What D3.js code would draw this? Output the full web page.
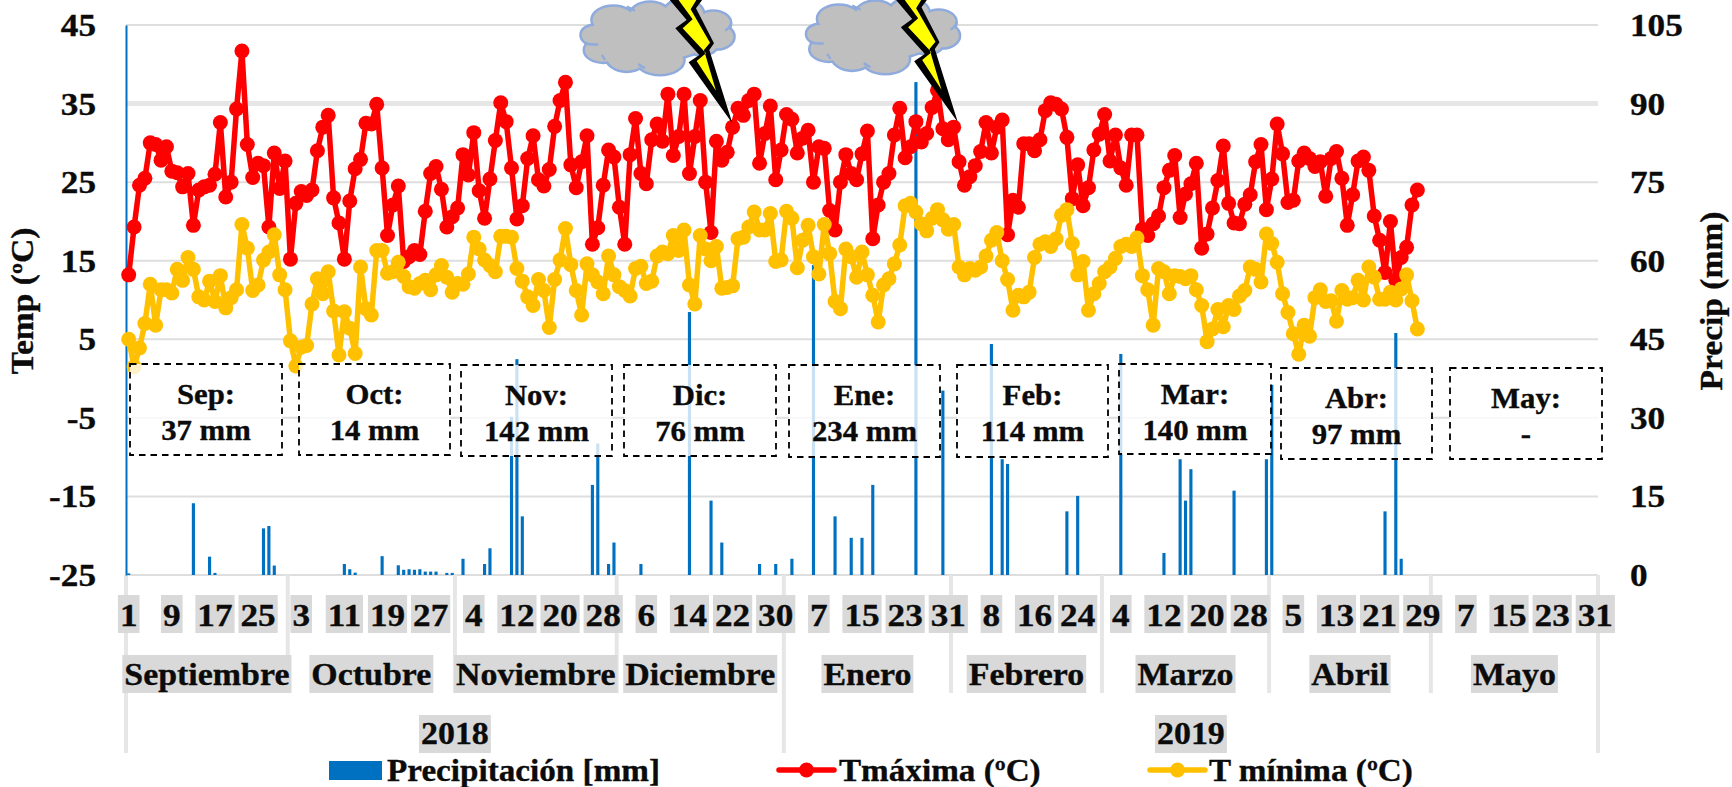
<!DOCTYPE html>
<html><head><meta charset="utf-8">
<script src="https://cdn.jsdelivr.net/npm/d3@7"></script>
<style>
html,body{margin:0;padding:0;background:#fff}
svg{display:block}
text{font-family:"Liberation Serif",serif;font-weight:700;fill:#0b0b0b;stroke:#0b0b0b;stroke-width:0.35px}
</style></head><body>
<svg id="c" width="1732" height="787"></svg>
<script>
const monthNames=["Septiembre","Octubre","Noviembre","Diciembre","Enero","Febrero","Marzo","Abril","Mayo"];
const monthDays=[30,31,30,31,31,28,31,30,31];
const years=["2018","2019"];
const yearMonths=[4,5];
const dayLabels=[1,9,17,25,3,11,19,27,4,12,20,28,6,14,22,30,7,15,23,31,8,16,24,4,12,20,28,5,13,21,29,7,15,23,31];
const tempTicks=[-25,-15,-5,5,15,25,35,45];
const precipTicks=[0,15,30,45,60,75,90,105];
const monthBoxTitles=["Sep:","Oct:","Nov:","Dic:","Ene:","Feb:","Mar:","Abr:","May:"];
const monthBoxTotals=["37 mm","14 mm","142 mm","76 mm","234 mm","114 mm","140 mm","97 mm","-"];
const legendNames=["Precipitación [mm]","Tmáxima (ºC)","T mínima (ºC)"];

const tMax=[13.2,19.3,24.6,25.5,30.0,29.8,27.8,29.5,26.4,26.2,24.4,26.1,19.5,24.0,24.4,24.6,26.0,32.6,23.1,25.0,
34.3,41.7,29.8,25.6,27.4,27.1,19.3,28.7,24.2,27.7,15.2,22.3,23.8,23.3,24.0,29.0,32.0,33.5,23.0,19.8,
15.2,22.6,26.7,27.9,32.5,32.4,34.9,26.8,18.2,22.1,24.5,14.9,15.5,16.3,15.8,21.3,26.1,27.0,24.1,19.3,
20.6,21.7,28.5,25.9,31.3,23.9,20.4,25.4,30.3,35.1,32.7,26.8,20.3,22.0,28.0,30.9,25.3,24.5,26.6,32.1,
35.4,37.7,27.2,24.3,27.6,30.9,17.1,19.2,24.6,29.1,28.2,21.8,17.1,28.5,33.1,26.1,24.8,30.4,32.4,30.2,
36.2,28.4,30.8,36.2,26.1,30.8,35.4,25.0,18.6,30.2,27.8,28.8,32.0,34.4,33.5,35.4,36.2,27.4,31.2,34.7,
25.3,29.1,33.6,33.0,28.7,30.6,31.6,25.0,29.5,29.3,21.4,18.9,25.0,28.5,26.1,25.3,28.6,31.5,17.8,22.1,
25.0,26.1,31.0,34.4,28.1,29.5,32.7,30.1,31.2,34.5,36.7,31.8,30.4,32.0,27.6,24.6,25.7,27.1,28.9,32.6,
28.7,32.0,32.9,18.3,22.7,21.8,29.9,29.9,29.0,30.4,34.1,35.1,34.9,34.3,30.7,22.9,27.2,22.0,24.3,29.1,
31.1,33.6,27.7,31.0,26.8,24.6,31.0,31.0,19.0,18.2,19.7,20.7,24.3,26.5,28.4,20.5,23.5,24.8,27.4,16.6,
18.4,21.7,25.2,29.6,22.3,19.8,19.7,22.2,23.4,27.6,29.8,21.5,25.4,32.4,28.6,22.4,22.7,27.7,28.7,28.0,
27.0,27.6,23.2,28.0,28.9,25.5,19.5,23.4,27.7,28.2,26.5,20.7,17.6,13.5,20.0,12.5,15.4,16.7,22.1,24.0];

const tMin=[5.0,1.5,3.9,7.0,12.0,6.8,11.3,11.3,10.9,13.9,12.5,15.4,13.9,10.4,10.0,12.4,9.8,13.1,9.0,10.3,
11.3,19.6,16.6,11.2,11.9,15.1,16.1,18.3,13.2,11.3,4.8,1.6,4.0,4.2,9.5,12.7,10.8,13.6,8.6,3.0,
8.5,6.4,3.2,14.2,8.9,8.1,16.3,16.3,13.4,13.6,14.8,13.0,11.7,11.5,12.1,12.5,11.3,13.2,14.4,12.9,
11.0,12.1,12.0,13.3,18.0,16.5,15.1,14.4,13.6,18.1,18.1,18.0,14.0,12.4,10.4,9.3,12.6,11.2,6.5,12.6,
15.1,19.1,14.5,11.2,8.1,14.6,13.2,12.3,10.8,15.6,13.2,11.7,11.2,10.5,14.0,14.3,12.1,12.4,15.6,16.1,
15.9,18.2,16.3,18.9,11.9,9.5,18.2,16.5,15.0,16.8,11.5,11.6,11.8,17.8,18.0,19.3,21.2,18.9,18.9,21.0,
14.9,15.1,21.3,20.4,14.1,17.6,19.5,15.5,13.3,19.6,15.9,9.8,8.9,16.5,15.5,12.9,16.1,13.2,10.6,7.2,
11.9,12.7,14.6,17.0,22.0,22.3,21.2,19.7,18.8,20.4,21.5,20.2,19.0,19.6,14.2,13.2,14.0,13.8,14.2,15.6,
17.6,18.6,15.0,12.6,8.7,10.6,10.4,11.0,15.4,17.1,17.4,16.8,17.8,20.8,21.5,17.2,13.2,14.9,8.7,10.8,
12.1,13.6,14.2,15.3,16.8,17.1,16.8,17.9,13.1,11.3,6.8,14.0,13.6,10.8,13.1,13.0,12.7,13.1,11.3,9.3,
4.7,6.3,8.8,6.6,9.3,8.8,10.5,11.2,14.2,13.9,12.3,18.4,17.2,14.8,10.8,8.4,5.7,3.1,6.8,5.4,
10.3,11.3,9.8,9.9,7.3,11.2,10.1,10.3,12.5,10.0,14.2,12.9,10.1,10.1,11.0,10.0,11.4,13.2,9.9,6.3];

const precipDay=[0,12,15,16,25,26,27,40,41,42,47,50,51,52,53,54,55,56,57,59,60,62,66,67,71,72,73,86,87,89,90,95,104,108,110,117,120,123,127,131,134,136,138,146,151,160,162,163,174,176,184,192,195,196,197,205,211,212,233,235,236];
const precipMm=[0.3,13.7,3.5,0.4,8.9,9.35,1.8,2.1,1.1,0.45,3.6,1.85,1.0,1.1,1.0,1.1,0.65,0.65,0.65,0.4,0.4,3.1,2.1,5.1,30.2,41.2,11.2,17.2,25.1,2.1,6.2,2.1,50.2,14.2,6.2,2.1,2.1,3.1,59.2,11.2,7.1,7.1,17.2,94.1,35.2,44.1,22.1,21.2,12.15,15.1,42.2,4.2,22.1,14.2,20.2,16.1,22.1,36.3,12.15,46.2,3.1];

const svg=d3.select("#c");
const nDays=d3.sum(monthDays);
const x=d3.scaleBand().domain(d3.range(nDays)).range([126,1598]).paddingInner(0.42).paddingOuter(0.21);
const step=1472/nDays;
const edge=i=>126+i*step;
const cx=i=>x(i)+x.bandwidth()/2;
const yT=d3.scaleLinear().domain([-25,45]).range([575,25]);
const yP=d3.scaleLinear().domain([0,105]).range([575,25]);
const RED="#ff0000",GOLD="#ffc000",BLUE="#0070c0",GREY="#d9d9d9",SEP="#e6e6e6";
const K=1.06;
const stretch=(s,k=K)=>s.each(function(){
  const n=this.getComputedTextLength();
  this.setAttribute("textLength",n*k);
  this.setAttribute("lengthAdjust","spacingAndGlyphs");
});

// horizontal grid
svg.append("g").selectAll("line").data(tempTicks).join("line")
  .attr("x1",126).attr("x2",1598).attr("y1",d=>yT(d)).attr("y2",d=>yT(d))
  .attr("stroke",d=>d===35?"#e6e6e6":"#dedede").attr("stroke-width",d=>d===35?5:2);

// month separators
const cum=d3.cumsum(monthDays);
const sepData=[0,...cum];
const bigSep=new Set([0,d3.sum(monthDays.slice(0,yearMonths[0])),nDays]);
svg.append("g").selectAll("line").data(sepData).join("line")
  .attr("x1",edge).attr("x2",edge).attr("y1",575)
  .attr("y2",d=>bigSep.has(d)?753:693)
  .attr("stroke",SEP).attr("stroke-width",4);

// bars
svg.append("g").selectAll("rect").data(precipDay).join("rect")
  .attr("x",d=>x(d)).attr("width",x.bandwidth())
  .attr("y",(d,i)=>yP(precipMm[i])).attr("height",(d,i)=>yP(0)-yP(precipMm[i]))
  .attr("fill",BLUE);

// axes
const axL=d3.axisLeft(yT).tickValues(tempTicks).tickSize(0).tickPadding(30).tickFormat(d=>String(d));
const gL=svg.append("g").attr("transform","translate(126,0)").call(axL);
gL.select(".domain").attr("stroke",BLUE).attr("stroke-width",2);
const axR=d3.axisRight(yP).tickValues(precipTicks).tickSize(0).tickPadding(32).tickFormat(d=>String(d));
const gR=svg.append("g").attr("transform","translate(1598,0)").call(axR);
gR.select(".domain").remove();
[gL,gR].forEach(g=>{g.attr("font-family",null).attr("font-size",null);
  g.selectAll("text").attr("font-size",32).attr("dy",null).attr("y",10.5).call(stretch,1.1);});

// lines
function series(data,color){
  const line=d3.line().x((d,i)=>cx(i)).y(d=>yT(d));
  const g=svg.append("g");
  g.append("path").attr("d",line(data)).attr("fill","none").attr("stroke",color).attr("stroke-width",5.5).attr("stroke-linejoin","round");
  g.selectAll("circle").data(data).join("circle").attr("cx",(d,i)=>cx(i)).attr("cy",d=>yT(d)).attr("r",7.5).attr("fill",color);
}
series(tMax,RED);
series(tMin,GOLD);

// month total boxes
const boxLeft=[130,299,461,624,789,957,1119,1281,1450];
const boxRight=[282,450,612,776,940,1108,1271,1432,1602];
const boxTop=[364,364,365,365,365,365,364,368,368];
const boxBottom=[455,455,456,456,457,457,454,459,459];
const bg=svg.append("g");
monthBoxTitles.forEach((t,i)=>{
  bg.append("rect").attr("x",boxLeft[i]).attr("y",boxTop[i]).attr("width",boxRight[i]-boxLeft[i]).attr("height",boxBottom[i]-boxTop[i])
    .attr("fill","#fff").attr("fill-opacity",0.79).attr("stroke","#000").attr("stroke-width",1.8).attr("stroke-dasharray","6.5 5");
  const c=(boxLeft[i]+boxRight[i])/2, m=boxTop[i]+40;
  bg.append("text").attr("x",c).attr("y",m).attr("text-anchor","middle").attr("font-size",29).text(t).call(stretch,1.06);
  bg.append("text").attr("x",c).attr("y",m+36).attr("text-anchor","middle").attr("font-size",29).text(monthBoxTotals[i]).call(stretch,1.06);
});

// labelled category rows with grey highlight
function labelRow(items,yTop,yBase){
  const g=svg.append("g");
  items.forEach(it=>{
    const r=g.append("rect").attr("fill",GREY);
    const t=g.append("text").attr("x",it.x).attr("y",yBase).attr("text-anchor","middle").attr("font-size",32).text(it.t).call(stretch,it.k||K);
    const w=t.node().getComputedTextLength();
    const tw=+t.attr("textLength")||w;
    r.attr("x",it.x-tw/2-2).attr("width",tw+4).attr("y",yTop).attr("height",38);
  });
}
labelRow(dayLabels.map((t,i)=>({t,x:cx(i*8),k:1.1})),595,626);
labelRow(monthNames.map((t,i)=>({t,x:(edge(sepData[i])+edge(sepData[i+1]))/2})),655,685);
let acc=0;
const yearItems=years.map((t,i)=>{const a=acc;acc+=d3.sum(monthDays.slice(i?yearMonths[0]:0,i?9:yearMonths[0]));return{t,x:(edge(a)+edge(acc))/2};});
labelRow(yearItems,715,744);

// axis titles
svg.append("text").attr("transform","translate(33,301) rotate(-90)").attr("text-anchor","middle").attr("font-size",31).text("Temp (ºC)").call(stretch,1.08);
svg.append("text").attr("transform","translate(1722,301) rotate(-90)").attr("text-anchor","middle").attr("font-size",31).text("Precip (mm)").call(stretch,1.08);

// legend
const lg=svg.append("g");
lg.append("rect").attr("x",329).attr("y",761).attr("width",53).attr("height",19).attr("fill",BLUE);
lg.append("text").attr("x",387).attr("y",781).attr("font-size",31).text(legendNames[0]).call(stretch,1.07);
[[779,834,839,RED,1],[1150,1205,1209,GOLD,2]].forEach(([a,b,tx,col,n])=>{
  lg.append("line").attr("x1",a).attr("x2",b).attr("y1",770).attr("y2",770).attr("stroke",col).attr("stroke-width",5.5).attr("stroke-linecap","round");
  lg.append("circle").attr("cx",(a+b)/2).attr("cy",770).attr("r",7.5).attr("fill",col);
  lg.append("text").attr("x",tx).attr("y",781).attr("font-size",31).text(legendNames[n]).call(stretch,1.07);
});

// storm clouds + lightning (decoration)
const lobes=[[75,105,40,28],[100,150,55,35],[170,170,60,42],[270,180,70,42],[130,60,62,40],[240,50,60,42],[340,45,60,45],[430,70,50,35],[440,110,50,35],[395,135,45,28],[250,110,170,70]];
const creases=["M45,130 Q65,135 85,133","M195,32 Q180,25 170,20","M465,92 Q478,85 484,70","M105,180 Q100,170 95,165","M205,192 Q215,200 225,205"];
const bolt="295,-5 350,60 316,85 388,165 356,187 487,370 418,150 432,130 378,25 400,-5";
const boltIn="322,-5 368,58 338,85 408,160 380,183 438,272 402,150 420,128 362,28 382,-5";
[[570,0],[795.5,-1]].forEach(([tx,ty])=>{
  const g=svg.append("g").attr("transform",`translate(${tx},${ty}) scale(0.3333)`);
  g.selectAll("ellipse.o").data(lobes).join("ellipse").attr("class","o")
    .attr("cx",d=>d[0]).attr("cy",d=>d[1]).attr("rx",d=>d[2]).attr("ry",d=>d[3])
    .attr("fill","none").attr("stroke","#8faadc").attr("stroke-width",15);
  g.selectAll("ellipse.f").data(lobes).join("ellipse").attr("class","f")
    .attr("cx",d=>d[0]).attr("cy",d=>d[1]).attr("rx",d=>d[2]).attr("ry",d=>d[3])
    .attr("fill","#bfbfbf");
  g.selectAll("path").data(creases).join("path").attr("d",d=>d).attr("fill","none").attr("stroke","#8faadc").attr("stroke-width",7);
  g.append("polygon").attr("points",bolt).attr("fill","#000");
  g.append("polygon").attr("points",boltIn).attr("fill","#ffff00");
});
</script>
</body></html>
